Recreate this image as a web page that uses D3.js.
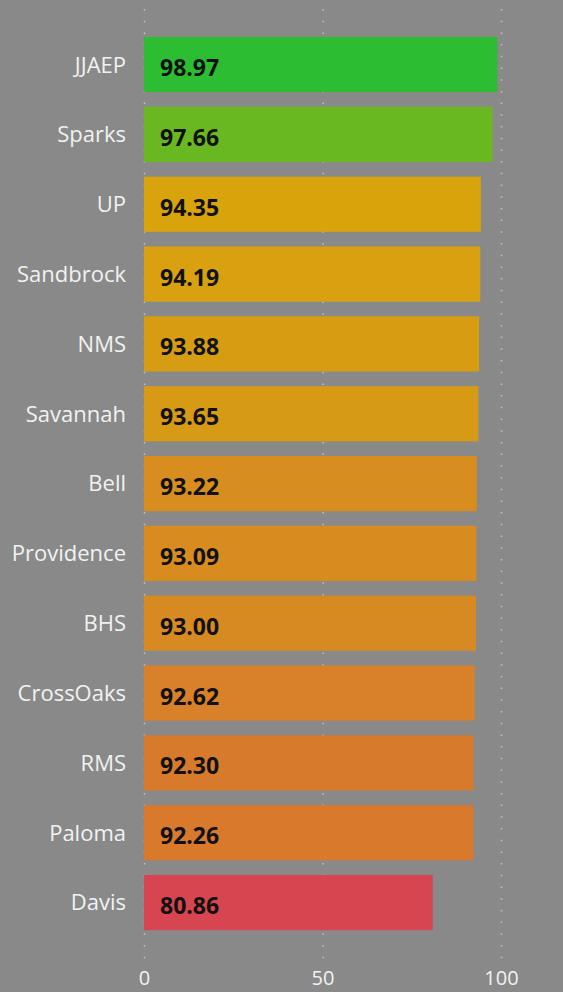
<!DOCTYPE html>
<html>
<head>
<meta charset="utf-8">
<script src="https://cdn.jsdelivr.net/npm/d3@7"></script>
<style>
html,body{margin:0;padding:0;background:#898989;}
svg{display:block;}
</style>
</head>
<body>
<svg id="chart" width="563" height="992"></svg>
<script>
const categories = ["JJAEP","Sparks","UP","Sandbrock","NMS","Savannah","Bell","Providence","BHS","CrossOaks","RMS","Paloma","Davis"];
const values = [98.97,97.66,94.35,94.19,93.88,93.65,93.22,93.09,93.00,92.62,92.30,92.26,80.86];
const barColors = ["#2dbd33","#69b822","#d9a30c","#d9a10f","#d69d12","#d69a15","#d78e1e","#d88c20","#d88a22","#d88128","#d87a2b","#d8792c","#d64550"];
const xTicks = [0,50,100];

const svg = d3.select("#chart");
const x = d3.scaleLinear().domain([0,100]).range([144,501]);
const step = 69.83, pi = 0.21;
const y = d3.scaleBand().domain(categories)
  .range([37 - step*pi/2, 37 - step*pi/2 + categories.length*step])
  .paddingInner(pi).paddingOuter(pi/2);

// gridlines
svg.append("g").selectAll("line").data(xTicks).join("line")
  .attr("x1", d=>x(d)+0.5).attr("x2", d=>x(d)+0.5)
  .attr("y1", 9).attr("y2", 960)
  .attr("stroke", "#c4c4c4").attr("stroke-width", 1.5)
  .attr("stroke-dasharray", "1.5,10.2");

// bars
svg.append("g").selectAll("rect").data(categories).join("rect")
  .attr("x", x(0)).attr("y", d=>y(d))
  .attr("width", (d,i)=>x(values[i])-x(0))
  .attr("height", y.bandwidth())
  .attr("fill", (d,i)=>barColors[i]);

// value labels
svg.append("g").selectAll("text").data(categories).join("text")
  .attr("x", 160).attr("y", d=>y(d)+y.bandwidth()/2)
  .attr("dy","0.5em")
  .attr("font-family","'Open Sans', sans-serif")
  .attr("font-weight","bold").attr("font-size","23px")
  .attr("fill","#111")
  .text((d,i)=>values[i].toFixed(2));

// category axis
const yAxis = d3.axisLeft(y).tickSize(0).tickPadding(0);
const gy = svg.append("g").attr("transform","translate(126,0)").call(yAxis);
gy.select(".domain").remove();
gy.selectAll("text")
  .attr("font-family","'Open Sans', sans-serif")
  .attr("font-size","22px").attr("fill","#f2f2f2").attr("dy","0.36em");

// x axis
const xAxis = d3.axisBottom(x).tickValues(xTicks).tickSize(0).tickPadding(0);
const gx = svg.append("g").attr("transform","translate(0,985)").call(xAxis);
gx.select(".domain").remove();
gx.selectAll("text")
  .attr("font-family","'Open Sans', sans-serif")
  .attr("font-size","20px").attr("fill","#f2f2f2").attr("dy","0");
</script>
</body>
</html>
